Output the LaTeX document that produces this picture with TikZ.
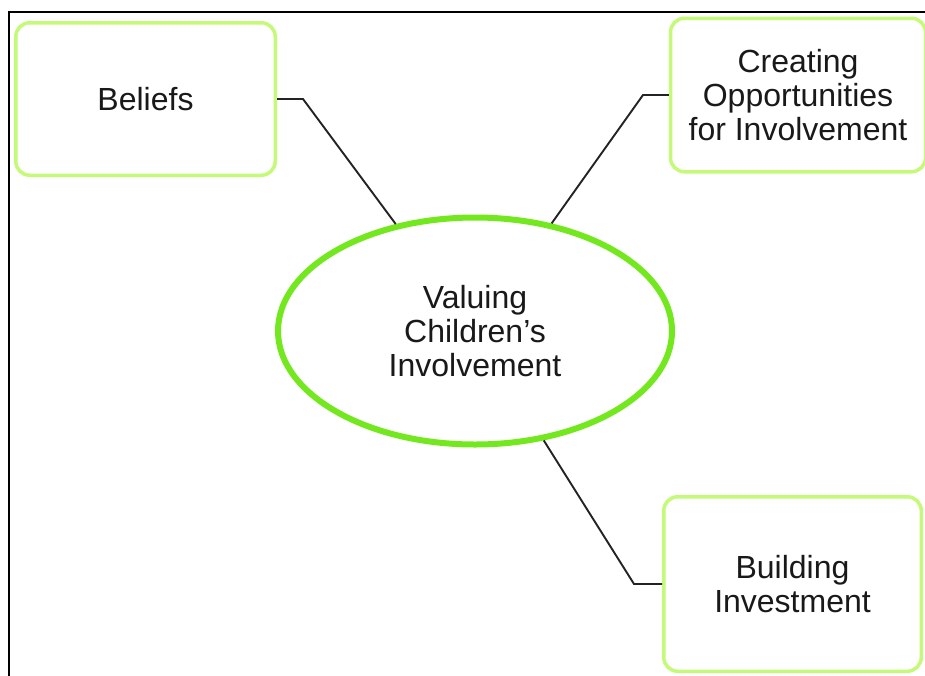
\documentclass[tikz,border=0pt]{standalone}
\usepackage{fontspec}
\setmainfont{Liberation Sans}
\usetikzlibrary{shapes.geometric}
\definecolor{boxgreen}{RGB}{196,250,120}
\definecolor{ellgreen}{RGB}{115,232,30}
\definecolor{txt}{RGB}{25,25,25}
\definecolor{conn}{RGB}{35,35,35}
\tikzset{
  topic/.style={draw=boxgreen, line width=3.5pt, rounded corners=14pt, fill=white, align=center, text=txt, inner sep=0pt, font=\fontsize{32}{34}\selectfont},
  core/.style={ellipse, draw=ellgreen, line width=6pt, fill=white, align=center, text=txt, inner sep=0pt, minimum width=394pt, minimum height=227pt, font=\fontsize{32}{34}\selectfont},
  link/.style={draw=conn, line width=1.9pt},
  frame/.style={draw=black, line width=2pt}
}
\begin{document}
\begin{tikzpicture}[x=1pt,y=-1pt]
\useasboundingbox (0,0) rectangle (925,675);
\draw[frame] (925,12) -- (8.5,12) -- (8.5,676);
\node[core] (v) at (475,331) {Valuing\\Children’s\\Involvement};
\node[topic, minimum width=259.5pt, minimum height=152.5pt] (b) at (145.5,99) {Beliefs};
\node[topic, minimum width=255pt, minimum height=153.5pt] (c) at (798,95) {Creating\\Opportunities\\for Involvement};
\node[topic, minimum width=257.5pt, minimum height=174.5pt] (i) at (792.5,584) {Building\\Investment};
\coordinate (eb) at (303,99);
\coordinate (ec) at (643,95);
\coordinate (ei) at (634,584);
\draw[link] (b.east) -- (eb) -- (v);
\draw[link] (c.west) -- (ec) -- (v);
\draw[link] (i.west) -- (ei) -- (v);
\end{tikzpicture}
\end{document}
